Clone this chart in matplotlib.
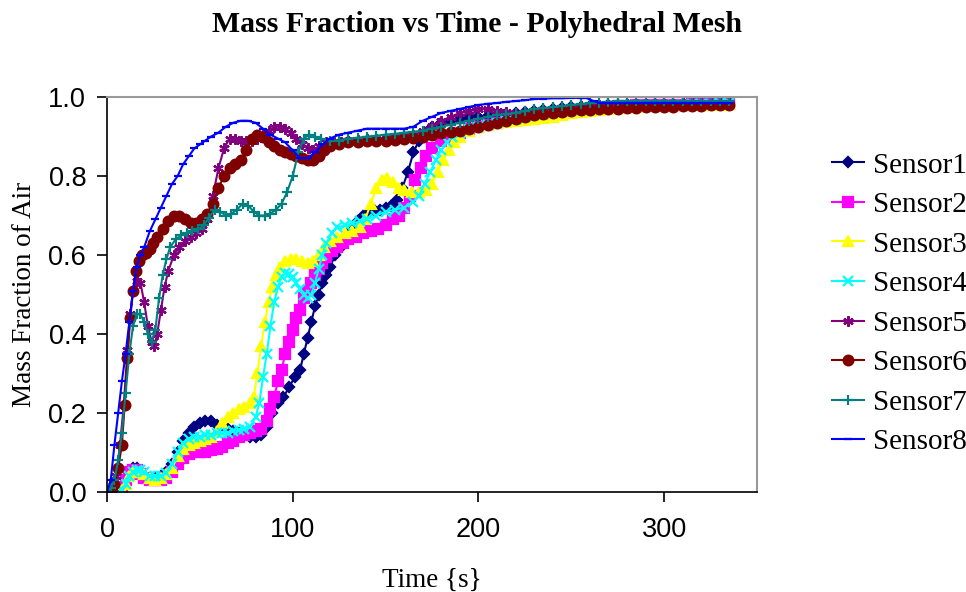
import matplotlib
matplotlib.use("Agg")
import matplotlib.pyplot as plt

# Sensor1 - navy diamonds
t1 = [0, 4, 6, 8, 10, 12, 14, 16, 18, 20, 23, 26, 29, 32, 35, 38, 41, 44, 47, 50,
      53, 56, 59, 62, 65, 68, 71, 74, 77, 80, 83, 86, 89, 92, 95, 98, 101, 104, 106, 108,
      110, 112, 114, 116, 118, 120, 123, 126, 129, 132, 135, 138, 141, 144, 147, 150, 153, 156, 159, 162,
      165, 168, 171, 175, 180, 185, 190, 195, 200, 205, 210, 215, 220, 225, 230, 235, 240, 245, 250, 255,
      260, 265, 270, 275, 280, 285, 290, 295, 300, 305, 310, 315, 320, 325, 330, 335]
y1 = [0.0, 0.0, 0.005, 0.015, 0.035, 0.05, 0.06, 0.06, 0.05, 0.04, 0.035, 0.035, 0.04, 0.05, 0.07, 0.10, 0.13, 0.15, 0.165, 0.175,
      0.18, 0.18, 0.17, 0.165, 0.16, 0.155, 0.15, 0.145, 0.14, 0.14, 0.145, 0.165, 0.20, 0.225, 0.24, 0.265, 0.29, 0.31, 0.35, 0.39,
      0.43, 0.47, 0.50, 0.53, 0.55, 0.57, 0.60, 0.62, 0.645, 0.665, 0.685, 0.70, 0.71, 0.715, 0.715, 0.72, 0.725, 0.74, 0.77, 0.81,
      0.86, 0.89, 0.91, 0.925, 0.935, 0.94, 0.945, 0.948, 0.95, 0.953, 0.955, 0.958, 0.96, 0.963, 0.965, 0.968, 0.97, 0.972, 0.975, 0.976,
      0.977, 0.978, 0.979, 0.98, 0.98, 0.981, 0.981, 0.982, 0.982, 0.982, 0.983, 0.983, 0.983, 0.984, 0.984, 0.985]

# Sensor2 - magenta squares
t2 = [0, 6, 8, 10, 12, 14, 16, 18, 20, 23, 26, 29, 32, 35, 38, 41, 44, 47, 50, 53,
      56, 59, 62, 65, 68, 71, 74, 77, 80, 83, 86, 88, 90, 92, 94, 96, 98, 100, 102, 104,
      106, 108, 110, 112, 114, 116, 118, 121, 124, 127, 130, 134, 138, 142, 146, 150, 154, 157, 160, 163,
      166, 169, 172, 175, 180, 185, 190, 195, 200, 205, 210, 215, 220, 225, 230, 235, 240, 245, 250, 255,
      260, 265, 270, 275, 280, 285, 290, 295, 300, 305, 310, 315, 320, 325, 330, 335]
y2 = [0.0, 0.0, 0.01, 0.03, 0.05, 0.055, 0.055, 0.045, 0.035, 0.03, 0.03, 0.03, 0.035, 0.05, 0.07, 0.085, 0.095, 0.10, 0.10, 0.10,
      0.105, 0.11, 0.115, 0.125, 0.13, 0.14, 0.145, 0.15, 0.155, 0.16, 0.18, 0.21, 0.24, 0.28, 0.31, 0.35, 0.38, 0.41, 0.44, 0.46,
      0.49, 0.51, 0.53, 0.55, 0.565, 0.58, 0.595, 0.61, 0.62, 0.63, 0.64, 0.645, 0.655, 0.66, 0.665, 0.675, 0.69, 0.70, 0.72, 0.75,
      0.79, 0.82, 0.85, 0.87, 0.89, 0.90, 0.91, 0.918, 0.925, 0.93, 0.935, 0.94, 0.945, 0.948, 0.95, 0.952, 0.955, 0.96, 0.965, 0.968,
      0.97, 0.972, 0.975, 0.977, 0.978, 0.979, 0.98, 0.98, 0.98, 0.981, 0.981, 0.982, 0.982, 0.982, 0.983, 0.983]

# Sensor3 - yellow triangles
t3 = [0, 6, 8, 10, 12, 14, 16, 18, 20, 23, 26, 29, 32, 35, 38, 41, 44, 47, 50, 53,
      56, 59, 62, 65, 68, 71, 74, 77, 79, 81, 83, 85, 87, 89, 91, 93, 96, 99, 102, 105,
      108, 111, 114, 117, 120, 124, 128, 132, 136, 139, 142, 145, 148, 151, 154, 157, 160, 164, 168, 172,
      175, 178, 181, 184, 187, 190, 195, 200, 205, 210, 215, 220, 225, 230, 235, 240, 245, 250, 255, 260,
      265, 270, 275, 280, 285, 290, 295, 300, 305, 310, 315, 320, 325, 330, 335]
y3 = [0.0, 0.0, 0.005, 0.02, 0.04, 0.05, 0.05, 0.05, 0.045, 0.035, 0.03, 0.035, 0.045, 0.06, 0.09, 0.11, 0.12, 0.125, 0.13, 0.135,
      0.14, 0.155, 0.175, 0.19, 0.20, 0.21, 0.215, 0.225, 0.24, 0.30, 0.37, 0.43, 0.48, 0.52, 0.55, 0.57, 0.585, 0.59, 0.59, 0.585,
      0.58, 0.585, 0.60, 0.62, 0.635, 0.645, 0.655, 0.66, 0.67, 0.69, 0.73, 0.77, 0.79, 0.795, 0.785, 0.77, 0.765, 0.76, 0.76, 0.765,
      0.78, 0.81, 0.84, 0.865, 0.885, 0.90, 0.915, 0.925, 0.93, 0.935, 0.938, 0.94, 0.943, 0.945, 0.948, 0.95, 0.955, 0.96, 0.963, 0.965,
      0.968, 0.97, 0.972, 0.975, 0.976, 0.977, 0.977, 0.978, 0.979, 0.979, 0.98, 0.98, 0.981, 0.981, 0.982]

# Sensor4 - cyan crosses
t4 = [0, 6, 8, 10, 12, 14, 16, 18, 20, 23, 26, 29, 32, 35, 38, 41, 44, 47, 50, 53,
      56, 59, 62, 65, 68, 71, 74, 77, 80, 82, 84, 86, 88, 90, 92, 94, 96, 98, 100, 102,
      104, 106, 108, 110, 112, 114, 116, 118, 121, 124, 128, 132, 136, 140, 145, 150, 155, 160, 165, 168,
      171, 174, 177, 180, 183, 186, 190, 195, 200, 205, 210, 215, 220, 225, 230, 235, 240, 245, 250, 255,
      260, 265, 270, 275, 280, 285, 290, 295, 300, 305, 310, 315, 320, 325, 330, 335]
y4 = [0.0, 0.0, 0.005, 0.02, 0.04, 0.05, 0.055, 0.055, 0.05, 0.04, 0.04, 0.04, 0.047, 0.07, 0.10, 0.125, 0.135, 0.14, 0.14, 0.145,
      0.145, 0.15, 0.15, 0.15, 0.155, 0.157, 0.16, 0.165, 0.19, 0.225, 0.29, 0.35, 0.42, 0.48, 0.52, 0.545, 0.555, 0.553, 0.545, 0.53,
      0.515, 0.50, 0.49, 0.50, 0.53, 0.565, 0.60, 0.63, 0.655, 0.67, 0.675, 0.68, 0.685, 0.69, 0.70, 0.71, 0.715, 0.72, 0.735, 0.75,
      0.78, 0.81, 0.84, 0.865, 0.885, 0.90, 0.91, 0.918, 0.925, 0.93, 0.935, 0.94, 0.945, 0.95, 0.955, 0.958, 0.96, 0.963, 0.965, 0.968,
      0.97, 0.972, 0.975, 0.977, 0.978, 0.979, 0.98, 0.98, 0.98, 0.981, 0.981, 0.982, 0.982, 0.983, 0.984, 0.985]

# Sensor5 - purple stars
t5 = [0, 3, 5, 7, 9, 11, 12.5, 14, 16, 18, 20, 22, 24, 25.5, 27, 29, 31, 33, 36, 39,
      42, 45, 48, 51, 54, 57, 60, 63, 66, 69, 72, 75, 78, 81, 84, 87, 90, 93, 96, 99,
      102, 105, 108, 111, 114, 118, 122, 126, 130, 135, 140, 145, 150, 155, 160, 165, 170, 175, 180, 185,
      190, 195, 200, 205, 210, 215, 220, 225, 230, 235, 240, 245, 250, 255, 260, 265, 270, 275, 280, 285,
      290, 295, 300, 305, 310, 315, 320, 325, 330, 335]
y5 = [0.0, 0.01, 0.04, 0.12, 0.22, 0.36, 0.45, 0.51, 0.535, 0.53, 0.48, 0.42, 0.38, 0.37, 0.40, 0.46, 0.52, 0.56, 0.60, 0.62,
      0.635, 0.645, 0.655, 0.665, 0.69, 0.75, 0.82, 0.87, 0.895, 0.895, 0.89, 0.89, 0.89, 0.895, 0.905, 0.915, 0.925, 0.925, 0.92, 0.91,
      0.895, 0.88, 0.87, 0.865, 0.875, 0.885, 0.885, 0.885, 0.89, 0.892, 0.895, 0.895, 0.895, 0.897, 0.90, 0.905, 0.915, 0.928, 0.94, 0.95,
      0.96, 0.965, 0.97, 0.97, 0.965, 0.962, 0.96, 0.962, 0.965, 0.968, 0.97, 0.972, 0.975, 0.978, 0.98, 0.98, 0.98, 0.981, 0.982, 0.982,
      0.983, 0.983, 0.983, 0.983, 0.984, 0.984, 0.984, 0.985, 0.985, 0.985]

# Sensor6 - dark red circles
t6 = [0, 2, 4, 6, 8, 9.5, 11, 12.5, 14, 15.5, 17, 19, 21, 23, 25, 27, 30, 33, 36, 39,
      42, 45, 48, 51, 54, 57, 60, 63, 66, 69, 72, 75, 78, 81, 84, 87, 90, 93, 96, 99,
      102, 105, 108, 111, 114, 117, 120, 125, 130, 135, 140, 145, 150, 155, 160, 165, 170, 175, 180, 185,
      190, 195, 200, 205, 210, 215, 220, 225, 230, 235, 240, 245, 250, 255, 260, 265, 270, 275, 280, 285,
      290, 295, 300, 305, 310, 315, 320, 325, 330, 335]
y6 = [0.0, 0.005, 0.02, 0.06, 0.12, 0.22, 0.34, 0.44, 0.51, 0.56, 0.585, 0.60, 0.605, 0.615, 0.63, 0.645, 0.665, 0.685, 0.70, 0.70,
      0.69, 0.68, 0.68, 0.69, 0.705, 0.73, 0.77, 0.80, 0.82, 0.83, 0.84, 0.865, 0.895, 0.905, 0.90, 0.885, 0.875, 0.865, 0.86, 0.855,
      0.85, 0.845, 0.84, 0.84, 0.85, 0.865, 0.875, 0.88, 0.885, 0.887, 0.89, 0.89, 0.89, 0.892, 0.895, 0.897, 0.90, 0.905, 0.91, 0.912,
      0.915, 0.92, 0.925, 0.93, 0.935, 0.94, 0.945, 0.95, 0.955, 0.958, 0.96, 0.962, 0.965, 0.967, 0.968, 0.969, 0.97, 0.971, 0.972, 0.973,
      0.974, 0.975, 0.976, 0.976, 0.977, 0.977, 0.978, 0.979, 0.979, 0.98]

# Sensor7 - teal plus
t7 = [0, 2, 4, 6, 8, 10, 12, 14, 16, 18, 20, 22, 24, 26, 28, 30, 32, 34, 37, 40,
      43, 46, 49, 52, 55, 58, 61, 64, 67, 70, 73, 76, 79, 82, 85, 88, 91, 94, 97, 100,
      103, 106, 109, 112, 115, 120, 125, 130, 135, 140, 145, 150, 155, 160, 165, 170, 175, 180, 185, 190,
      195, 200, 205, 210, 215, 220, 225, 230, 235, 240, 245, 250, 255, 260, 265, 270, 275, 280, 285, 290,
      295, 300, 305, 310, 315, 320, 325, 330, 335]
y7 = [0.0, 0.01, 0.03, 0.08, 0.15, 0.25, 0.35, 0.42, 0.45, 0.45, 0.43, 0.40, 0.38, 0.41, 0.49, 0.55, 0.59, 0.62, 0.64, 0.65,
      0.655, 0.66, 0.665, 0.675, 0.695, 0.715, 0.71, 0.70, 0.705, 0.715, 0.73, 0.725, 0.71, 0.70, 0.70, 0.705, 0.715, 0.73, 0.76, 0.80,
      0.86, 0.895, 0.905, 0.90, 0.895, 0.89, 0.89, 0.895, 0.897, 0.90, 0.902, 0.905, 0.907, 0.91, 0.912, 0.915, 0.92, 0.925, 0.93, 0.935,
      0.94, 0.945, 0.95, 0.955, 0.957, 0.96, 0.965, 0.97, 0.972, 0.975, 0.977, 0.98, 0.982, 0.985, 0.986, 0.988, 0.989, 0.99, 0.99, 0.99,
      0.99, 0.99, 0.99, 0.99, 0.99, 0.99, 0.99, 0.99, 0.99]

# Sensor8 - blue dashes
t8 = [0, 2, 4, 6, 8, 10, 12, 14, 16, 18, 20, 23, 26, 29, 32, 35, 38, 41, 44, 47,
      50, 53, 56, 60, 64, 68, 72, 76, 80, 84, 88, 92, 96, 100, 104, 108, 112, 116, 120, 125,
      130, 135, 140, 145, 150, 155, 160, 165, 170, 175, 180, 185, 190, 195, 200, 205, 210, 215, 220, 225,
      230, 235, 240, 245, 250, 255, 258, 262, 266, 270, 275, 280, 285, 290, 295, 300, 305, 310, 315, 320,
      325, 330, 335]
y8 = [0.0, 0.03, 0.12, 0.20, 0.28, 0.35, 0.43, 0.51, 0.57, 0.60, 0.62, 0.66, 0.69, 0.72, 0.75, 0.78, 0.80, 0.83, 0.85, 0.87,
      0.88, 0.89, 0.90, 0.91, 0.925, 0.935, 0.94, 0.94, 0.935, 0.92, 0.905, 0.895, 0.885, 0.865, 0.845, 0.845, 0.86, 0.88, 0.895, 0.905,
      0.91, 0.915, 0.92, 0.92, 0.92, 0.92, 0.92, 0.925, 0.94, 0.95, 0.96, 0.965, 0.97, 0.975, 0.98, 0.983, 0.985, 0.988, 0.99, 0.992,
      0.995, 0.996, 0.997, 0.997, 0.998, 0.998, 0.998, 0.99, 0.985, 0.985, 0.985, 0.985, 0.985, 0.985, 0.985, 0.985, 0.985, 0.985, 0.985, 0.985,
      0.985, 0.985, 0.985]

series = [
    ("Sensor1", t1, y1, "#000080", "D", 5.5),
    ("Sensor2", t2, y2, "#FF00FF", "s", 6.5),
    ("Sensor3", t3, y3, "#FFFF00", "^", 7),
    ("Sensor4", t4, y4, "#00FFFF", "x", 6.5),
    ("Sensor5", t5, y5, "#800080", (6, 2, 0), 7.5),
    ("Sensor6", t6, y6, "#800000", "o", 7),
    ("Sensor7", t7, y7, "#008080", "+", 7.5),
    ("Sensor8", t8, y8, "#0000FF", "_", 5.5),
]

fig = plt.figure(figsize=(9.66, 5.92), dpi=100)
ax = fig.add_axes([0.1108, 0.169, 0.6728, 0.667])

for name, t, y, col, mk, ms in series:
    ax.plot(t, y, color=col, lw=1.5, marker=mk, ms=ms, mew=1.6,
            mfc=col, mec=col, label=name)

ax.set_xlim(0, 350)
ax.set_ylim(0, 1.0)
ax.set_xticks([0, 100, 200, 300])
ax.set_yticks([0.0, 0.2, 0.4, 0.6, 0.8, 1.0])
ax.set_yticklabels(["0.0", "0.2", "0.4", "0.6", "0.8", "1.0"])
ax.tick_params(direction="out", length=7, width=1.2, labelsize=19.5)
ax.tick_params(axis="x", pad=11)
ax.tick_params(axis="y", pad=8)
for lab in ax.get_xticklabels() + ax.get_yticklabels():
    lab.set_fontfamily("Liberation Sans")

ax.spines["left"].set_color("black")
ax.spines["bottom"].set_color("black")
ax.spines["left"].set_linewidth(1.2)
ax.spines["bottom"].set_linewidth(1.2)
ax.spines["top"].set_color("#999999")
ax.spines["right"].set_color("#999999")
ax.spines["top"].set_linewidth(1.5)
ax.spines["right"].set_linewidth(1.5)

ax.set_xlabel("Time {s}", fontsize=19.5, fontfamily="Liberation Serif", labelpad=18)
ax.set_ylabel("Mass Fraction of Air", fontsize=19.5, fontfamily="Liberation Serif", labelpad=8)
fig.text(0.494, 0.958, "Mass Fraction vs Time - Polyhedral Mesh", ha="center", va="center",
         fontsize=21.4, fontweight="bold", fontfamily="Liberation Serif")

leg = ax.legend(loc="upper left", bbox_to_anchor=(1.097, 0.89), frameon=False,
                prop={"family": "Liberation Serif", "size": 21},
                handlelength=1.1, handletextpad=0.3, labelspacing=0.45, borderaxespad=0)

fig.savefig("out.png", dpi=100)
